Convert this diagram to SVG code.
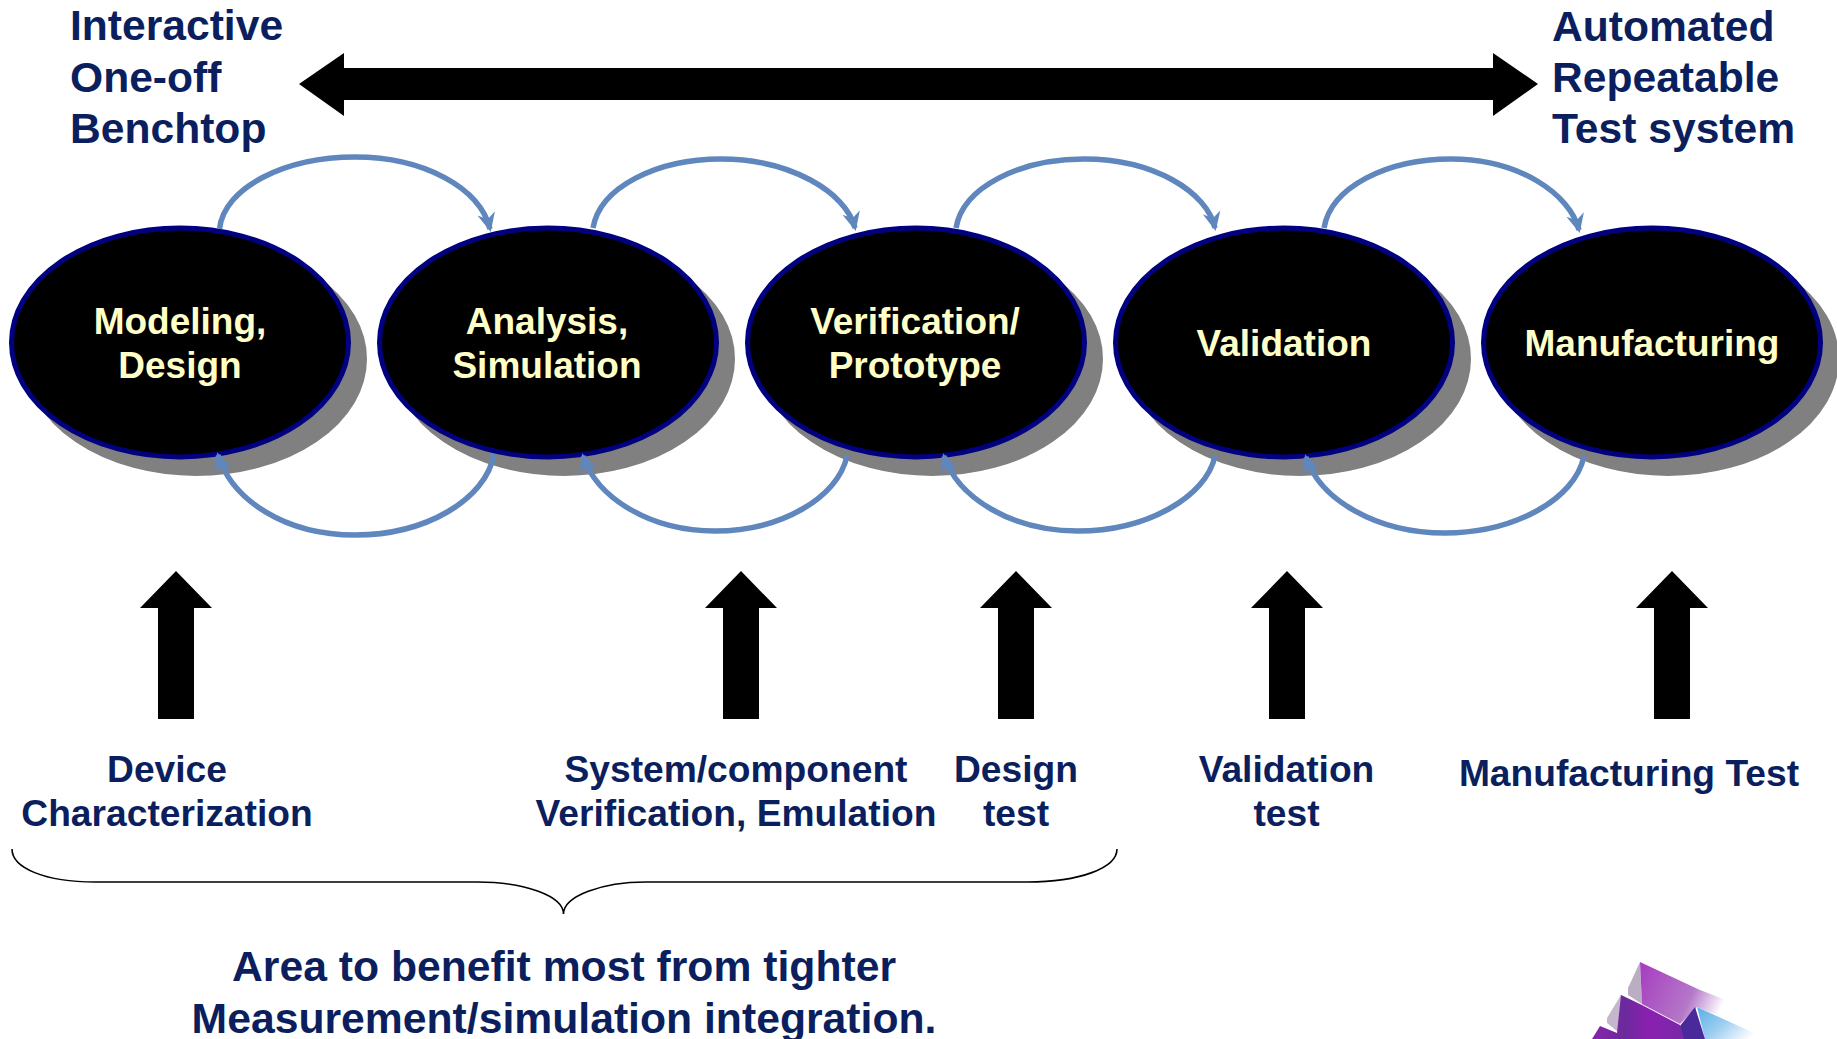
<svg xmlns="http://www.w3.org/2000/svg" width="1837" height="1039" viewBox="0 0 1837 1039">
<style>
text{font-family:"Liberation Sans",Arial,sans-serif;font-weight:700}
.head{font-size:42.6px;fill:#0b1f5e}
.sub{font-size:37.2px;fill:#0b1f5e;text-anchor:middle}
.big{font-size:42.7px;fill:#0b1f5e;text-anchor:middle}
.lab{font-size:37px;fill:#ffffc8;text-anchor:middle}
.sh{fill:#808080;stroke:#808080;stroke-width:5}
.el{fill:#000;stroke:#000080;stroke-width:5}
.arc{fill:none;stroke:#5f87bd;stroke-width:5.5}
.ar{fill:#000}
</style>
<defs>
<marker id="h" markerUnits="userSpaceOnUse" markerWidth="24" markerHeight="24" refX="16" refY="12" orient="auto">
<path d="M19,12 L0,3 L6,12 L0,21Z" fill="#5f87bd"/>
</marker>
<linearGradient id="g1" x1="0" y1="0" x2="1" y2="0.3"><stop offset="0" stop-color="#a63cc0"/><stop offset="0.65" stop-color="#b478c8"/><stop offset="1" stop-color="#fff"/></linearGradient>
<linearGradient id="g2" x1="0" y1="0" x2="1" y2="0.5"><stop offset="0" stop-color="#5aaee8"/><stop offset="0.5" stop-color="#9ccdf0"/><stop offset="1" stop-color="#fff"/></linearGradient>
<linearGradient id="g3" x1="0" y1="0" x2="1" y2="0"><stop offset="0" stop-color="#8a24ac"/><stop offset="0.35" stop-color="#6a2a9c"/><stop offset="0.6" stop-color="#8a20b0"/><stop offset="1" stop-color="#7a28a8"/></linearGradient>
<ellipse id="e" rx="168.500" ry="114.500"/>
</defs>
<rect width="1837" height="1039" fill="#fff"/>

<g id="label-left"><text class="head" x="70" y="40">Interactive</text><text class="head" x="70" y="92">One-off</text><text class="head" x="70" y="143">Benchtop</text></g>
<g id="label-right"><text class="head" x="1552" y="41">Automated</text><text class="head" x="1552" y="92">Repeatable</text><text class="head" x="1552" y="143">Test system</text></g>
<polygon id="range-arrow" class="ar" points="299,84 344,53 344,68 1493,68 1493,53 1538,84 1493,116 1493,100 344,100 344,116"/>

<g id="node-modeling"><use href="#e" x="196" y="359" class="sh"/><use href="#e" x="180" y="342.5" class="el"/><text class="lab" x="180" y="334">Modeling,</text><text class="lab" x="180" y="378">Design</text></g>
<g id="node-analysis"><use href="#e" x="564" y="359" class="sh"/><use href="#e" x="548" y="342.5" class="el"/><text class="lab" x="547" y="334">Analysis,</text><text class="lab" x="547" y="378">Simulation</text></g>
<g id="node-verification"><use href="#e" x="932" y="359" class="sh"/><use href="#e" x="916" y="342.5" class="el"/><text class="lab" x="915" y="334">Verification/</text><text class="lab" x="915" y="378">Prototype</text></g>
<g id="node-validation"><use href="#e" x="1300" y="359" class="sh"/><use href="#e" x="1284" y="342.5" class="el"/><text class="lab" x="1284" y="356">Validation</text></g>
<g id="node-manufacturing"><use href="#e" x="1668" y="359" class="sh"/><use href="#e" x="1652" y="342.5" class="el"/><text class="lab" x="1652" y="356">Manufacturing</text></g>

<g id="connectors">
<path class="arc" marker-end="url(#h)" d="M219.500,229 C224,187 286,157 355,157 C424,157 480,188 490,229"/>
<path class="arc" marker-end="url(#h)" d="M593,228 C600,187 657,159 721,159 C790,159 846,192 855,228"/>
<path class="arc" marker-end="url(#h)" d="M956,228 C963,187 1020,159 1084,159 C1154,159 1207,192 1215,228"/>
<path class="arc" marker-end="url(#h)" d="M1324,228 C1331,187 1387,159 1451,159 C1519,159 1570,194 1579,230"/>
<path class="arc" marker-end="url(#h)" d="M494,454 C486,500 425,535 355,535 C285,535 232,500 218,455"/>
<path class="arc" marker-end="url(#h)" d="M847,456 C838,498 780,531 715,531 C650,531 597,498 583,456"/>
<path class="arc" marker-end="url(#h)" d="M1215,456 C1206,498 1145,531 1078,531 C1012,531 958,498 944,456"/>
<path class="arc" marker-end="url(#h)" d="M1584,456 C1575,500 1513,533 1445,533 C1377,533 1320,500 1306,457"/>
</g>

<g id="up-arrows">
<polygon id="arrow-1" class="ar" points="176,571 212,608 194,608 194,719 158,719 158,608 140,608"/>
<polygon id="arrow-2" class="ar" points="741,571 777,608 759,608 759,719 723,719 723,608 705,608"/>
<polygon id="arrow-3" class="ar" points="1016,571 1052,608 1034,608 1034,719 998,719 998,608 980,608"/>
<polygon id="arrow-4" class="ar" points="1287,571 1323,608 1305,608 1305,719 1269,719 1269,608 1251,608"/>
<polygon id="arrow-5" class="ar" points="1672,571 1708,608 1690,608 1690,719 1654,719 1654,608 1636,608"/>
</g>

<g id="label-device"><text class="sub" x="167" y="782">Device</text><text class="sub" x="167" y="826">Characterization</text></g>
<g id="label-system"><text class="sub" x="736" y="782">System/component</text><text class="sub" x="736" y="826">Verification, Emulation</text></g>
<g id="label-design"><text class="sub" x="1016" y="782">Design</text><text class="sub" x="1016" y="826">test</text></g>
<g id="label-validation"><text class="sub" x="1286.500" y="782">Validation</text><text class="sub" x="1286.500" y="826">test</text></g>
<g id="label-manufacturing"><text class="sub" x="1629" y="786">Manufacturing Test</text></g>

<path id="brace" fill="none" stroke="#000" stroke-width="1.6" d="M12,849 C12,868 45,882 95,882 L477,882 C525,882 563.500,896 563.500,914 C563.500,896 602,882 646,882 L1027,882 C1080,882 1117,868 1117,849"/>

<g id="label-area"><text class="big" x="564" y="981">Area to benefit most from tighter</text><text class="big" x="564" y="1033">Measurement/simulation integration.</text></g>

<g id="logo">
<polygon fill="#bcaec2" points="1640,962 1628,988 1628,995 1642,1004"/>
<polygon fill="url(#g1)" points="1640,962 1700,990 1734,1003 1717,1015 1697,1007 1680,1024 1642,1004"/>
<polygon fill="#c4b6cc" points="1621,995 1607,1018 1607,1023 1618,1032 1642,1006"/>
<polygon fill="url(#g3)" points="1621,995 1642,1005 1680,1025 1685,1039 1592,1039 1600,1026 1617,1033"/>
<polygon fill="url(#g2)" points="1697,1007 1767,1039 1705,1039"/>
<polygon fill="#4a2a9a" points="1695,1007 1680,1026 1684,1039 1705,1039"/>
</g>
</svg>
